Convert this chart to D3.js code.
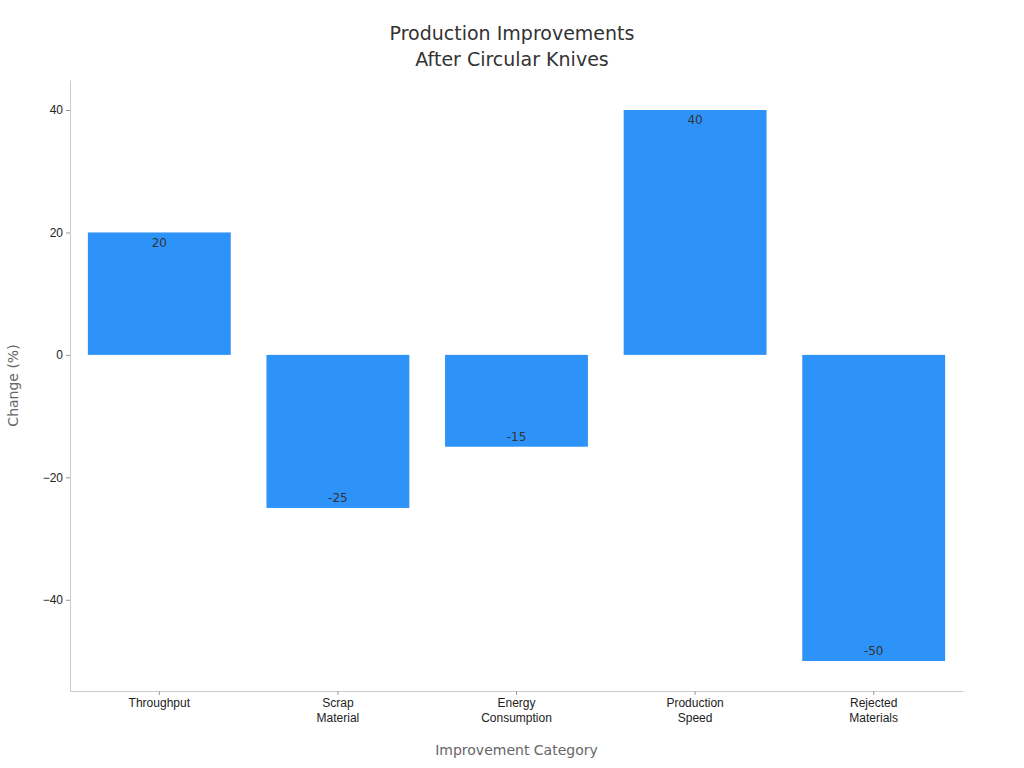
<!DOCTYPE html>
<html lang="en">
<head>
	<meta charset="UTF-8">
	<title>Production Improvements</title>
	<script src="https://cdnjs.cloudflare.com/ajax/libs/d3/7.8.5/d3.min.js"></script>
	<style>
		body{margin:0;background:#fff;font-family:"DejaVu Sans",sans-serif;}
		.domain{stroke:#ccc;}
		.tick line{stroke:#999;}
		.tick text{fill:#222;font-size:12px;}
	</style>
</head>
<body>
<div id="container"></div>
<script>
	var categories=['Throughput','Scrap\nMaterial','Energy\nConsumption','Production\nSpeed','Rejected\nMaterials']
	var values=[20,-25,-15,40,-50]
	var yTicks=[-40,-20,0,20,40]

	var width=1024,height=768,
	margin={left:70,top:80,right:61,bottom:77}

	var svg=d3.select('#container').append('svg')
	.attr('width',width).attr('height',height)

	var x=d3.scaleBand().domain(categories)
	.range([margin.left,width-margin.right])
	.paddingInner(0.2).paddingOuter(0.1)
	var y=d3.scaleLinear().domain([-54.9,44.9])
	.range([height-margin.bottom,margin.top])

	svg.selectAll('rect.bar').data(values).enter().append('rect')
	.attr('x',function(d,i){return x(categories[i])})
	.attr('width',x.bandwidth())
	.attr('y',function(d){return y(Math.max(0,d))})
	.attr('height',function(d){return Math.abs(y(d)-y(0))})
	.attr('fill','#2e93f8')

	svg.selectAll('text.val').data(values).enter().append('text')
	.attr('x',function(d,i){return x(categories[i])+x.bandwidth()/2})
	.attr('y',function(d){return y(d)+(d>0?10:-10)})
	.attr('dy','0.35em').attr('text-anchor','middle')
	.attr('font-size',12).attr('fill','#333')
	.text(function(d){return d})

	var xAxis=svg.append('g')
	.attr('transform','translate(0,'+(height-margin.bottom)+')')
	.call(d3.axisBottom(x).tickSize(4).tickSizeOuter(0))
	xAxis.selectAll('.tick text').each(function(d){
		var t=d3.select(this).text(null)
		d.split('\n').forEach(function(s,i){
			t.append('tspan').attr('x',0).attr('dy',i?'1.25em':'0.71em').text(s)
		})
	})

	svg.append('g')
	.attr('transform','translate('+margin.left+',0)')
	.call(d3.axisLeft(y).tickValues(yTicks).tickSize(4).tickSizeOuter(0)
		.tickFormat(function(d){return String(d).replace('-','\u2212')}))

	svg.append('text').attr('x',(margin.left+width-margin.right)/2).attr('y',755)
	.attr('text-anchor','middle').attr('font-size',14).attr('fill','#666')
	.text('Improvement Category')
	svg.append('text').attr('transform','translate(18,'+y(-5)+') rotate(-90)')
	.attr('text-anchor','middle').attr('font-size',14).attr('fill','#666')
	.text('Change (%)')

	var title=svg.append('text').attr('text-anchor','middle').attr('font-size',19).attr('fill','#333')
	title.append('tspan').attr('x',512).attr('y',40).text('Production Improvements')
	title.append('tspan').attr('x',512).attr('y',66).text('After Circular Knives')
</script>
</body>
</html>
